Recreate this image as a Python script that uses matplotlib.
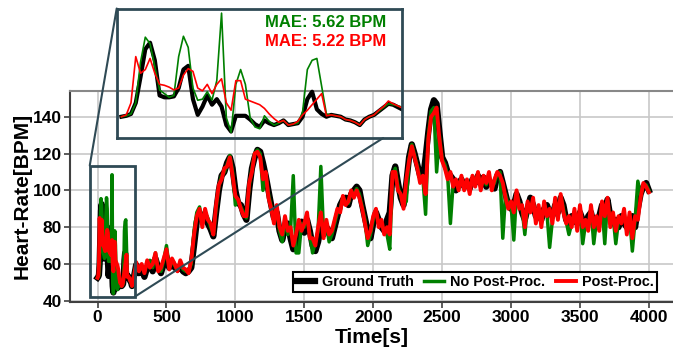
import numpy as np
import matplotlib
matplotlib.use('Agg')
import matplotlib.pyplot as plt
from matplotlib.patches import Rectangle, ConnectionPatch

# 字体设置
plt.rcParams['font.family'] = ['Liberation Sans', 'DejaVu Sans']
plt.rcParams['font.weight'] = 'bold'

# 采样时刻: 前段(放大区)5s一个点, 之后20s一个点
t_fine = np.arange(0, 290, 5)
t_main = np.arange(300, 4001, 20)

# 放大区数据 (0-285 s)
gt_fine = [52.5, 53, 54, 60, 74, 89, 92.5, 83, 64, 63,
           63, 63.5, 68, 78, 80, 62, 53.5, 58, 64, 59,
           62, 58, 48, 44.5, 53, 53, 53, 51, 48.5, 47,
           50.5, 49, 48, 49, 50.5, 48, 48.5, 49, 52.5, 62,
           66, 56.5, 54, 52.5, 53.5, 53, 52.5, 51, 50.5, 49.5,
           48, 51, 52.5, 53.5, 55.5, 57.5, 59.5, 59]
nopp_fine = [52.5, 53, 54, 60, 82, 95.5, 92, 79.4, 67, 65,
             63, 64, 85, 96, 90, 68, 61.4, 62, 66, 61.5,
             72, 108.5, 52, 44, 70, 78, 70, 52, 47, 46,
             53, 50, 48, 49, 50.5, 48, 48.5, 49, 55, 78,
             83, 84, 69, 54, 53.5, 53, 52.5, 51, 50.5, 49.5,
             48, 51, 52.5, 53.5, 55.5, 57.5, 59.5, 59]
pp_fine = [52.5, 53.5, 60, 85, 76, 78, 84, 76, 70, 69.5,
           68.5, 67, 68, 75, 78.5, 77, 68, 66.5, 70, 65,
           70, 73, 60, 56, 72, 72, 62, 61, 60, 59,
           57, 54, 51.5, 49.5, 50.5, 48, 48.5, 50, 53.5, 56,
           59, 62, 65, 53, 53.5, 53, 52.5, 51, 50.5, 49.5,
           48, 51, 52.5, 53.5, 56, 58, 61, 59.5]

# 主图数据 (300-4000 s)
gt_main = [55, 57, 53, 58, 61, 56, 63, 58, 55, 60,
           64, 58, 61, 58, 57, 59, 56, 55, 56, 58,
           70, 83, 88, 84, 86, 82, 79, 75, 88, 100,
           108, 110, 115, 118, 112, 100, 93, 92, 87, 84,
           100, 112, 118, 122, 121, 115, 108, 100, 92, 85,
           88, 78, 73, 80, 82, 74, 68, 70, 80, 83,
           77, 84, 78, 70, 67, 72, 80, 76, 80, 78,
           74, 80, 86, 92, 95, 96, 92, 98, 100, 102,
           100, 92, 85, 78, 74, 82, 88, 84, 80, 78,
           84, 88, 108, 113, 104, 96, 92, 104, 118, 125,
           120, 114, 108, 106, 118, 132, 144, 149, 147, 132,
           118, 115, 110, 108, 106, 100, 104, 106, 102, 104,
           101, 106, 104, 108, 104, 107, 102, 105, 104, 101,
           108, 110, 104, 98, 92, 90, 92, 98, 94, 88,
           84, 90, 96, 92, 86, 88, 84, 90, 92, 88,
           86, 92, 88, 96, 92, 84, 82, 86, 84, 82,
           88, 84, 80, 86, 88, 82, 80, 86, 92, 90,
           95, 86, 82, 84, 80, 86, 82, 80, 84, 86,
           80, 90, 98, 102, 104, 100]
nopp_main = [57, 58, 56, 60, 62, 58, 66, 57, 56, 62,
             70, 58, 62, 59, 57, 60, 57, 56, 56, 60,
             78, 88, 91, 82, 88, 85, 80, 76, 90, 102,
             108, 110, 114, 119, 110, 92, 94, 91, 88, 85,
             102, 112, 120, 122, 120, 100, 108, 98, 91, 84,
             90, 78, 72, 84, 76, 78, 108, 66, 66, 82,
             80, 86, 76, 66, 72, 78, 113, 76, 82, 72,
             76, 82, 88, 90, 96, 94, 93, 99, 98, 101,
             98, 91, 84, 70, 76, 84, 89, 82, 82, 78,
             76, 68, 108, 112, 102, 97, 92, 94, 117, 125,
             119, 113, 106, 107, 87, 130, 143, 145, 110, 130,
             117, 114, 108, 82, 104, 104, 102, 107, 101, 105,
             100, 107, 103, 109, 102, 107, 103, 108, 102, 104,
             109, 110, 74, 98, 92, 92, 73, 99, 92, 90,
             76, 92, 90, 94, 84, 90, 82, 92, 88, 69,
             84, 94, 86, 97, 90, 83, 76, 82, 88, 80,
             90, 71, 82, 80, 90, 71, 84, 80, 92, 71,
             95, 82, 86, 71, 84, 84, 88, 78, 86, 67,
             84, 105, 97, 103, 103, 100]
pp_main = [56, 60, 55, 62, 58, 60, 66, 56, 58, 63,
           68, 57, 63, 60, 56, 62, 58, 57, 55, 62,
           76, 86, 90, 80, 90, 84, 82, 76, 92, 103,
           106, 112, 113, 118, 108, 97, 95, 90, 86, 86,
           104, 110, 120, 121, 118, 106, 110, 96, 90, 82,
           92, 80, 76, 86, 78, 80, 70, 76, 84, 78,
           82, 88, 74, 74, 70, 80, 88, 74, 84, 76,
           78, 84, 90, 88, 97, 92, 94, 100, 96, 100,
           96, 90, 82, 74, 78, 86, 90, 80, 84, 76,
           80, 76, 110, 110, 100, 98, 90, 106, 116, 124,
           118, 112, 104, 108, 98, 128, 140, 142, 145, 128,
           116, 112, 106, 110, 102, 106, 100, 108, 100, 106,
           98, 108, 102, 110, 100, 108, 104, 110, 100, 106,
           110, 108, 104, 96, 90, 94, 88, 100, 90, 92,
           80, 94, 88, 96, 82, 92, 80, 94, 86, 90,
           82, 96, 84, 98, 88, 82, 86, 80, 90, 78,
           92, 80, 84, 78, 92, 80, 86, 78, 94, 86,
           96, 80, 88, 78, 86, 82, 90, 76, 88, 74,
           86, 84, 96, 104, 102, 99]

mae_nopp = 5.62
mae_pp = 5.22

time = np.concatenate([t_fine, t_main])
gt = np.concatenate([gt_fine, gt_main])
nopp = np.concatenate([nopp_fine, nopp_main])
pp = np.concatenate([pp_fine, pp_main])

frame_color = '#2f4a55'

fig = plt.figure(figsize=(6.73, 3.5), dpi=100)
ax = fig.add_axes([0.104, 0.137, 0.896, 0.604])

ax.plot(time, gt, color='black', lw=4.5, label='Ground Truth', zorder=2)
ax.plot(time, nopp, color='green', lw=2.5, label='No Post-Proc.', zorder=3)
ax.plot(time, pp, color='red', lw=2.8, label='Post-Proc.', zorder=4)

ax.set_xlim(-200, 4175)
ax.set_ylim(39.3, 154.2)
ax.set_xticks(range(0, 4001, 500))
ax.set_yticks(range(40, 141, 20))
ax.grid(True, color='#c8c8c8', lw=1.2)
ax.set_axisbelow(True)
for s in ['left', 'bottom']:
    ax.spines[s].set_color('#404040')
    ax.spines[s].set_linewidth(1.5)
ax.spines['top'].set_color('#888888')
ax.spines['top'].set_linewidth(1.5)
ax.spines['right'].set_visible(False)
ax.tick_params(labelsize=12.5, length=4, width=1.2, color='#404040', pad=2)
ax.set_xlabel('Time[s]', fontsize=15, fontweight='bold', labelpad=2)
ax.set_ylabel('Heart-Rate[BPM]', fontsize=15, fontweight='bold', labelpad=1)

leg = ax.legend(loc='lower right', bbox_to_anchor=(0.973, 0.049), ncol=3,
                fontsize=10.4, fancybox=False, edgecolor='black', framealpha=1,
                borderpad=0.2, handlelength=1.35, handletextpad=0.45,
                columnspacing=0.75, borderaxespad=0)
leg.get_frame().set_linewidth(1.5)
leg.set_zorder(10)

# 放大框
x0, x1, y0, y1 = -56.6, 270, 42.2, 113.5
ax.add_patch(Rectangle((x0, y0), x1 - x0, y1 - y0, fill=False,
                       ec=frame_color, lw=2, zorder=6))

# 子图
axins = fig.add_axes([0.1734, 0.6057, 0.4235, 0.37])
axins.set_facecolor('none')
axins.plot(time, gt, color='black', lw=3)
axins.plot(time, nopp, color='green', lw=1.2)
axins.plot(time, pp, color='red', lw=1.2)
axins.set_xlim(-5, 294)
axins.set_ylim(41, 111)
axins.set_xticks([])
axins.set_yticks([])
for s in axins.spines.values():
    s.set_color(frame_color)
    s.set_linewidth(2)
axins.text(0.947, 0.889, f'MAE: {mae_nopp:.2f} BPM', color='green', ha='right',
           va='center', transform=axins.transAxes, fontsize=12, fontweight='bold')
axins.text(0.947, 0.742, f'MAE: {mae_pp:.2f} BPM', color='red', ha='right',
           va='center', transform=axins.transAxes, fontsize=12, fontweight='bold')

# 连接线
for pa, pb in [((x0, y1), (0, 1)), ((x1, y0), (0.935, 0))]:
    con = ConnectionPatch(xyA=pa, coordsA=ax.transData, xyB=pb, coordsB=axins.transAxes,
                          color=frame_color, lw=1.5)
    fig.add_artist(con)

fig.savefig('out.png', dpi=100)
